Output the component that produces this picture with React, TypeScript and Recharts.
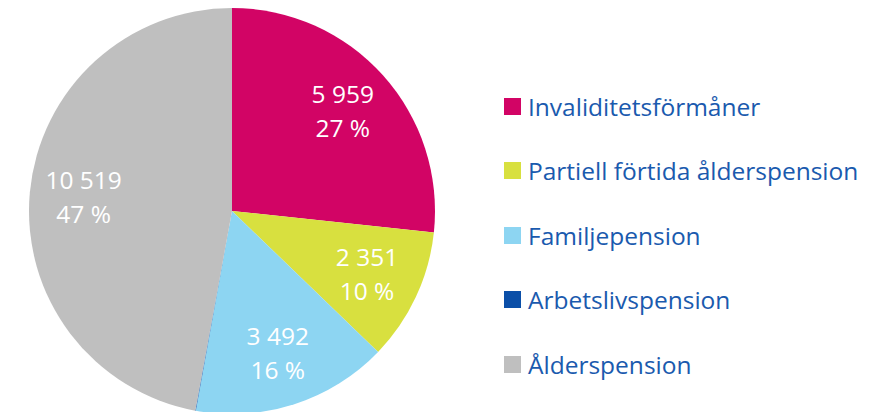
import React from 'react';
import { PieChart, Pie, Cell } from 'recharts';

const categories = ['Invaliditetsförmåner', 'Partiell förtida ålderspension', 'Familjepension', 'Arbetslivspension', 'Ålderspension'];
const values = [5959, 2351, 3492, 10, 10519];
const percentLabels = ['27 %', '10 %', '16 %', '', '47 %'];
const colors = ['#D20465', '#D8E03F', '#8DD5F2', '#0B4FA8', '#BFBFBF'];

const data = categories.map((name, i) => ({ name, value: values[i], pct: percentLabels[i] }));

const FONT = '"Segoe UI", "Open Sans", sans-serif';
const RAD = Math.PI / 180;

const fmt = (v: number) => v.toString().replace(/\B(?=(\d{3})+(?!\d))/g, ' ');

const renderLabel = (props: any) => {
  const { cx, cy, midAngle, index, value } = props;
  if (!percentLabels[index]) return null;
  const r = 149;
  const x = cx + r * Math.cos(-midAngle * RAD);
  const y = cy + r * Math.sin(-midAngle * RAD);
  return (
    <text x={x} y={y} fill="#fff" textAnchor="middle" fontFamily={FONT} fontSize={24.5}>
      <tspan x={x} dy={-8}>{fmt(value)}</tspan>
      <tspan x={x} dy={34}>{percentLabels[index]}</tspan>
    </text>
  );
};

export default function App() {
  return (
    <div style={{ position: 'absolute', left: 0, top: 0, width: 881, height: 412, background: '#fff' }}>
      <PieChart width={881} height={412} margin={{ top: 0, right: 0, bottom: 0, left: 0 }}>
        <Pie
          data={data}
          dataKey="value"
          nameKey="name"
          cx={232}
          cy={211}
          outerRadius={203}
          startAngle={90}
          endAngle={-270}
          stroke="none"
          label={renderLabel}
          labelLine={false}
          isAnimationActive={false}
        >
          {data.map((d, i) => (
            <Cell key={d.name} fill={colors[i]} />
          ))}
        </Pie>
      </PieChart>
      <div style={{ position: 'absolute', left: 504, top: 74, fontFamily: FONT }}>
        {categories.map((c, i) => (
          <div key={c} style={{ display: 'flex', alignItems: 'center', height: 64.5 }}>
            <div style={{ width: 17, height: 17, background: colors[i], marginRight: 7 }} />
            <span style={{ color: '#1A5AAE', fontSize: 24.5, whiteSpace: 'nowrap' }}>{c}</span>
          </div>
        ))}
      </div>
    </div>
  );
}
